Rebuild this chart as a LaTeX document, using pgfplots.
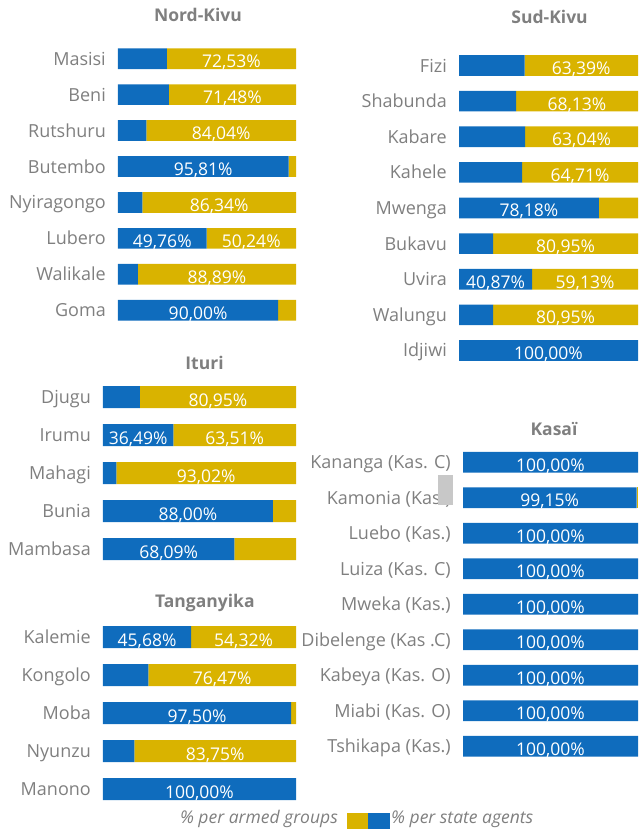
\documentclass[border=0pt]{standalone}
\usepackage{fontspec}
\setmainfont{Open Sans}
\usepackage{pgfplots}
\pgfplotsset{compat=1.18}
\definecolor{stateblue}{HTML}{0F6CBD}
\definecolor{armedgold}{HTML}{D9B300}
\definecolor{labgray}{HTML}{7F7F7F}
\definecolor{boxgray}{HTML}{C8C8C8}

\pgfplotsset{
  frame/.style={scale only axis, anchor=north west, xmin=0, xmax=100,
    y dir=reverse, clip=false},
  panel/.style={frame,
    xbar stacked,
    axis line style={draw=none}, xtick=\empty, major tick length=0pt,
    yticklabel style={font=\fontsize{18}{20}\selectfont, text=labgray,
      anchor=base east, inner sep=0pt, xshift=-12pt, yshift=-6.5pt},
    title style={font=\fontsize{17.5}{20}\selectfont\bfseries, text=labgray,
      anchor=base, inner sep=0pt},
  },
  over/.style={frame, hide axis},
  sagent/.style={fill=stateblue, draw=none},
  armed/.style={fill=armedgold, draw=none},
  % geometry of each panel
  nk/.style={at={(118pt,-40.73pt)}, width=178pt, height=287.5pt, ymin=-0.5, ymax=7.5},
  it/.style={at={(103pt,-378pt)}, width=193pt, height=190pt, ymin=-0.5, ymax=4.5},
  tg/.style={at={(103pt,-618pt)}, width=193pt, height=190pt, ymin=-0.5, ymax=4.5},
  sk/.style={at={(459pt,-47.69pt)}, width=179pt, height=320.6pt, ymin=-0.5, ymax=8.5},
  ks/.style={at={(463pt,-444.55pt)}, width=175pt, height=319.5pt, ymin=-0.5, ymax=8.5},
}
\tikzset{lbl/.style={text=white, font=\fontsize{17.5}{20}\selectfont,
  anchor=base, yshift=-9pt, inner sep=0pt}}
\newcommand{\lab}[3]{\node[lbl] at (axis cs:#1,#2) {#3};}

\begin{document}
\begin{tikzpicture}
\useasboundingbox (0,0) rectangle (638pt,-833pt);

% Nord-Kivu
\begin{axis}[panel, nk, bar width=20.7pt, ytick={0,...,7},
  yticklabels={Masisi,Beni,Rutshuru,Butembo,Nyiragongo,Lubero,Walikale,Goma},
  title={Nord-Kivu}, title style={at={(axis description cs:0.449,1)}, yshift=13pt}]
\addplot[sagent] coordinates {(27.47,0) (28.52,1) (15.96,2) (95.81,3) (13.66,4) (49.76,5) (11.11,6) (90.00,7)};
\addplot[armed] coordinates {(72.53,0) (71.48,1) (84.04,2) (4.19,3) (86.34,4) (50.24,5) (88.89,6) (10.00,7)};
\end{axis}
\begin{axis}[over, nk]
\lab{63.735}{0}{72,53\%}
\lab{64.26}{1}{71,48\%}
\lab{57.98}{2}{84,04\%}
\lab{47.905}{3}{95,81\%}
\lab{56.83}{4}{86,34\%}
\lab{24.88}{5}{49,76\%}
\lab{74.88}{5}{50,24\%}
\lab{55.555}{6}{88,89\%}
\lab{45}{7}{90,00\%}
\end{axis}

% Ituri
\begin{axis}[panel, it, bar width=22pt, ytick={0,...,4},
  yticklabels={Djugu,Irumu,Mahagi,Bunia,Mambasa},
  title={Ituri}, title style={at={(axis description cs:0.526,1)}, yshift=2.5pt}]
\addplot[sagent] coordinates {(19.05,0) (36.49,1) (6.98,2) (88.00,3) (68.09,4)};
\addplot[armed] coordinates {(80.95,0) (63.51,1) (93.02,2) (12.00,3) (31.91,4)};
\end{axis}
\begin{axis}[over, it]
\lab{59.525}{0}{80,95\%}
\lab{18.245}{1}{36,49\%}
\lab{68.245}{1}{63,51\%}
\lab{53.49}{2}{93,02\%}
\lab{44}{3}{88,00\%}
\lab{34.045}{4}{68,09\%}
\end{axis}

% Tanganyika
\begin{axis}[panel, tg, bar width=22pt, ytick={0,...,4},
  yticklabels={Kalemie,Kongolo,Moba,Nyunzu,Manono},
  title={Tanganyika}, title style={at={(axis description cs:0.528,1)}, yshift=4.5pt}]
\addplot[sagent] coordinates {(45.68,0) (23.53,1) (97.50,2) (16.25,3) (100,4)};
\addplot[armed] coordinates {(54.32,0) (76.47,1) (2.50,2) (83.75,3) (0,4)};
\end{axis}
\begin{axis}[over, tg]
\lab{22.84}{0}{45,68\%}
\lab{72.84}{0}{54,32\%}
\lab{61.765}{1}{76,47\%}
\lab{48.75}{2}{97,50\%}
\lab{58.125}{3}{83,75\%}
\lab{50}{4}{100,00\%}
\end{axis}

% Sud-Kivu
\begin{axis}[panel, sk, bar width=20.7pt, ytick={0,...,8},
  yticklabels={Fizi,Shabunda,Kabare,Kahele,Mwenga,Bukavu,Uvira,Walungu,Idjiwi},
  title={Sud-Kivu}, title style={at={(axis description cs:0.506,1)}, yshift=18.4pt}]
\addplot[sagent] coordinates {(36.61,0) (31.87,1) (36.96,2) (35.29,3) (78.18,4) (19.05,5) (40.87,6) (19.05,7) (100,8)};
\addplot[armed] coordinates {(63.39,0) (68.13,1) (63.04,2) (64.71,3) (21.82,4) (80.95,5) (59.13,6) (80.95,7) (0,8)};
\end{axis}
\begin{axis}[over, sk]
\lab{68.305}{0}{63,39\%}
\lab{65.935}{1}{68,13\%}
\lab{68.48}{2}{63,04\%}
\lab{67.645}{3}{64,71\%}
\lab{39.09}{4}{78,18\%}
\lab{59.525}{5}{80,95\%}
\lab{20.435}{6}{40,87\%}
\lab{70.435}{6}{59,13\%}
\lab{59.525}{7}{80,95\%}
\lab{50}{8}{100,00\%}
\end{axis}

% Kasai
\begin{axis}[panel, ks, bar width=20.7pt, ytick={0,...,8},
  yticklabels={Kananga (Kas. C),Kamonia (Kas.),Luebo (Kas.),Luiza (Kas. C),Mweka (Kas.),Dibelenge (Kas .C),Kabeya (Kas. O),Miabi (Kas. O),Tshikapa (Kas.)},
  title={Kasaï}, title style={at={(axis description cs:0.52,1)}, yshift=3.5pt}]
\addplot[sagent] coordinates {(100,0) (99.15,1) (100,2) (100,3) (100,4) (100,5) (100,6) (100,7) (100,8)};
\addplot[armed] coordinates {(0,0) (0.85,1) (0,2) (0,3) (0,4) (0,5) (0,6) (0,7) (0,8)};
\end{axis}
\begin{axis}[over, ks]
\fill[boxgray] (axis cs:-14.3,0.37) rectangle (axis cs:-5.7,1.19);
\lab{50}{0}{100,00\%}
\lab{49.575}{1}{99,15\%}
\lab{50}{2}{100,00\%}
\lab{50}{3}{100,00\%}
\lab{50}{4}{100,00\%}
\lab{50}{5}{100,00\%}
\lab{50}{6}{100,00\%}
\lab{50}{7}{100,00\%}
\lab{50}{8}{100,00\%}
\end{axis}

% legend
\node[anchor=base east, inner sep=0pt, text=labgray, font=\fontsize{17.5}{20}\selectfont\itshape]
  at (338pt,-823.5pt) {\% per armed groups};
\fill[armedgold] (347pt,-813pt) rectangle (368pt,-829pt);
\fill[stateblue] (368pt,-813pt) rectangle (390pt,-829pt);
\node[anchor=base west, inner sep=0pt, text=labgray, font=\fontsize{17.5}{20}\selectfont\itshape]
  at (391pt,-823.5pt) {\% per state agents};
\end{tikzpicture}
\end{document}
